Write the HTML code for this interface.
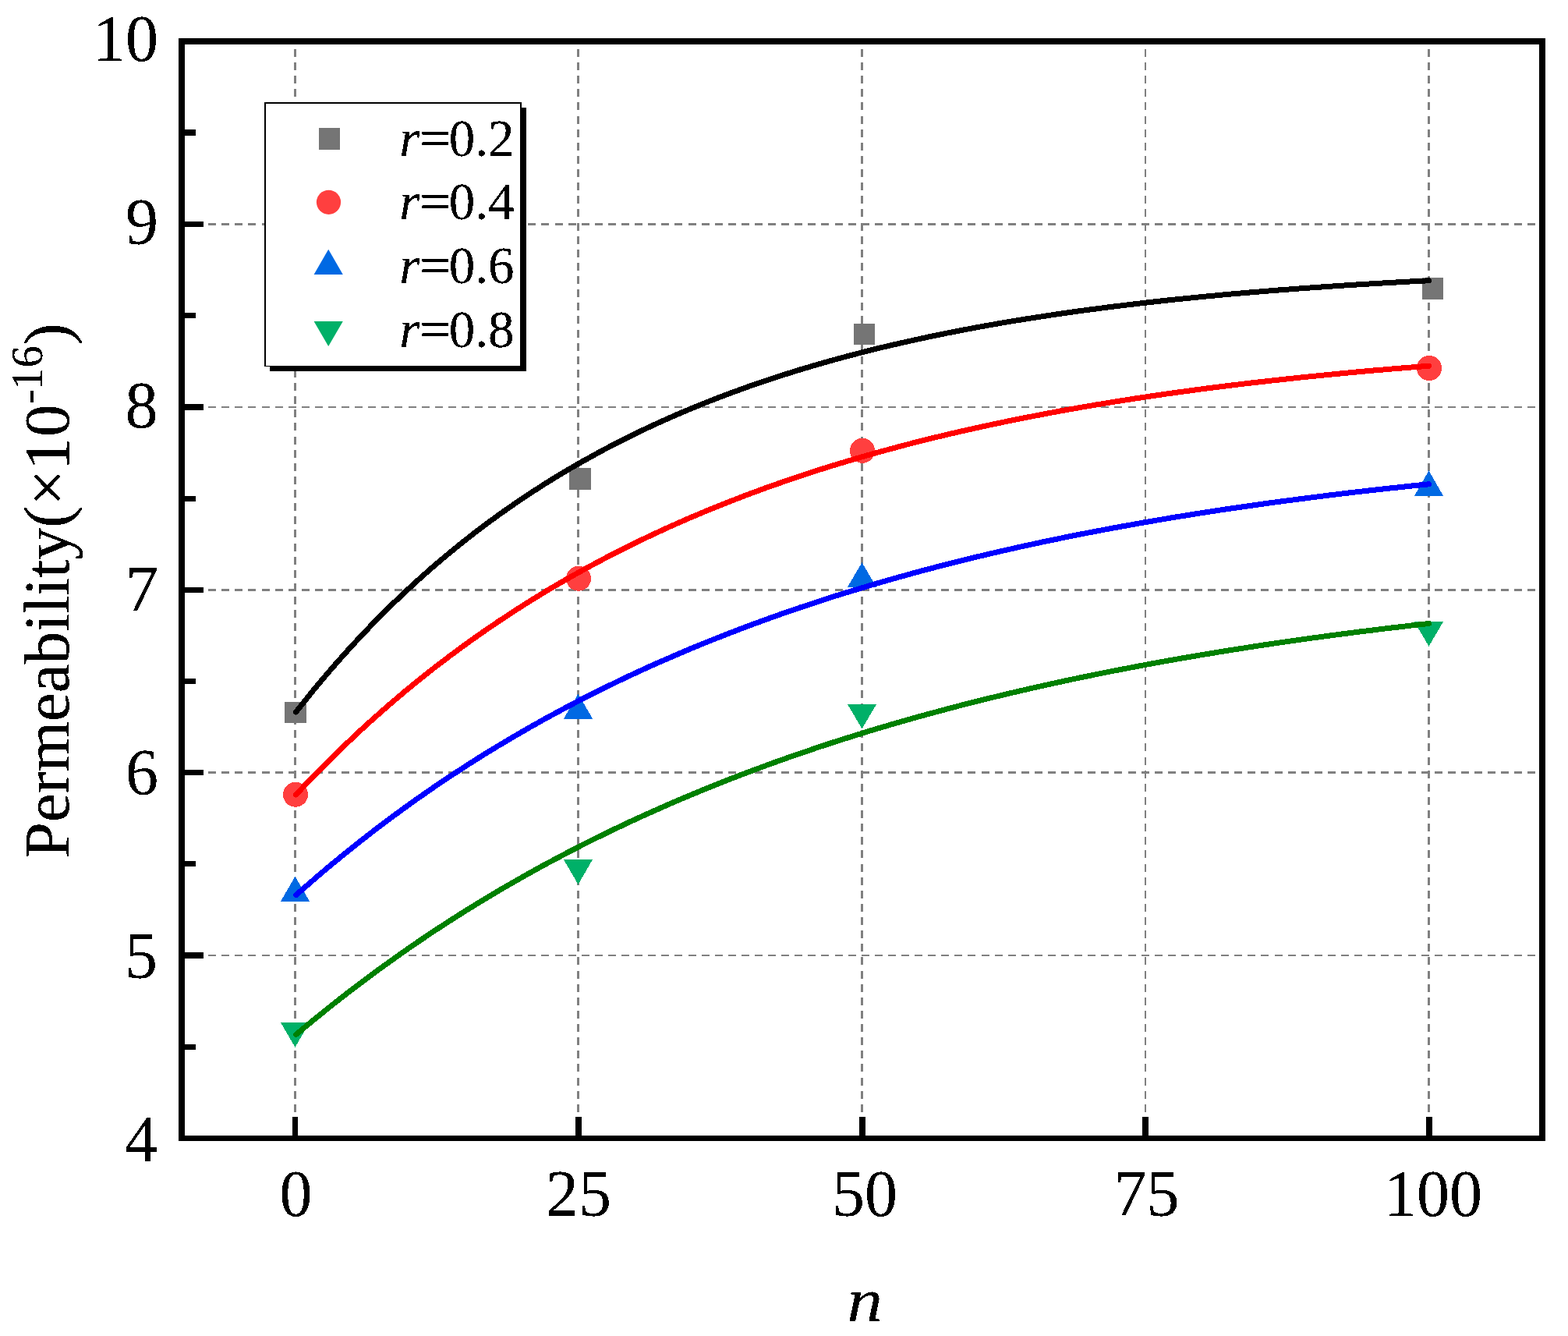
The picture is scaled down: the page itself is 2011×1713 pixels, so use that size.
<!DOCTYPE html>
<html lang="en"><head><meta charset="utf-8"><title>Permeability vs n</title>
<style>html,body{margin:0;padding:0;background:#fff}body{width:2011px;height:1713px;overflow:hidden}svg{display:block}text{font-family:"Liberation Serif","DejaVu Serif",serif;fill:#000}</style>
</head><body>
<svg width="2011" height="1713" viewBox="0 0 2011 1713">
<defs><filter id="crisp" x="-5%" y="-5%" width="110%" height="110%" color-interpolation-filters="sRGB"><feComponentTransfer><feFuncA type="discrete" tableValues="0 0 1 1 1"/></feComponentTransfer></filter></defs>
<rect x="0" y="0" width="2011" height="1713" fill="#ffffff"/>
<g stroke="#808080" fill="none" shape-rendering="crispEdges">
<line x1="233" y1="287.5" x2="1974" y2="287.5" stroke-width="3" stroke-dasharray="10 7.0924"/>
<line x1="233" y1="522.0" x2="1974" y2="522.0" stroke-width="2" stroke-dasharray="10 7.0924"/>
<line x1="233" y1="756.5" x2="1974" y2="756.5" stroke-width="3" stroke-dasharray="10 7.0924"/>
<line x1="233" y1="990.5" x2="1974" y2="990.5" stroke-width="3" stroke-dasharray="10 7.0924"/>
<line x1="233" y1="1225.0" x2="1974" y2="1225.0" stroke-width="2" stroke-dasharray="10 7.0924"/>
<line x1="378.5" y1="1460" x2="378.5" y2="57" stroke-width="3" stroke-dasharray="10 7.125"/>
<line x1="741.5" y1="1460" x2="741.5" y2="57" stroke-width="3" stroke-dasharray="10 7.125"/>
<line x1="1105.5" y1="1460" x2="1105.5" y2="57" stroke-width="3" stroke-dasharray="10 7.125"/>
<line x1="1469.0" y1="1460" x2="1469.0" y2="57" stroke-width="2" stroke-dasharray="10 7.125"/>
<line x1="1832.5" y1="1460" x2="1832.5" y2="57" stroke-width="3" stroke-dasharray="10 7.125"/>
</g>
<g shape-rendering="crispEdges">
<rect x="365" y="900" width="28" height="27" fill="#757575" shape-rendering="crispEdges"/>
<rect x="730" y="600" width="28" height="28" fill="#757575" shape-rendering="crispEdges"/>
<rect x="1095" y="415" width="27" height="27" fill="#757575" shape-rendering="crispEdges"/>
<rect x="1824" y="356" width="27" height="28" fill="#757575" shape-rendering="crispEdges"/>
<circle cx="379.00" cy="1018.70" r="16.00" fill="#ff3f3f"/>
<circle cx="742.00" cy="741.70" r="16.00" fill="#ff3f3f"/>
<circle cx="1106.00" cy="577.80" r="16.00" fill="#ff3f3f"/>
<circle cx="1833.00" cy="472.00" r="16.00" fill="#ff3f3f"/>
<polygon points="378.50,1123.80 397.10,1155.80 359.90,1155.80" fill="#0069e3"/>
<polygon points="741.50,889.80 760.10,921.60 722.90,921.60" fill="#0069e3"/>
<polygon points="1105.50,721.20 1124.10,752.80 1086.90,752.80" fill="#0069e3"/>
<polygon points="1832.50,603.40 1851.10,635.90 1813.90,635.90" fill="#0069e3"/>
<polygon points="359.90,1310.90 397.10,1310.90 378.50,1342.80" fill="#00b068"/>
<polygon points="722.90,1102.00 760.10,1102.00 741.50,1134.00" fill="#00b068"/>
<polygon points="1086.90,902.90 1124.10,902.90 1105.50,934.40" fill="#00b068"/>
<polygon points="1813.90,797.00 1851.10,797.00 1832.50,828.70" fill="#00b068"/>
</g>
<g fill="none" stroke-width="7" stroke-linecap="round" stroke-linejoin="round" shape-rendering="crispEdges">
<path d="M379.6,912.9 L389.6,900.3 L399.5,888.0 L409.5,875.9 L419.4,864.2 L429.4,852.6 L439.3,841.4 L449.3,830.3 L459.2,819.6 L469.2,809.0 L479.1,798.7 L489.1,788.6 L499.0,778.7 L509.0,769.1 L518.9,759.6 L528.9,750.4 L538.8,741.4 L548.8,732.5 L558.7,723.9 L568.7,715.4 L578.6,707.2 L588.6,699.1 L598.5,691.2 L608.5,683.4 L618.4,675.8 L628.4,668.4 L638.3,661.2 L648.3,654.1 L658.2,647.2 L668.2,640.4 L678.1,633.8 L688.1,627.3 L698.0,620.9 L708.0,614.7 L717.9,608.7 L727.9,602.7 L737.8,596.9 L747.8,591.2 L757.8,585.7 L767.7,580.2 L777.7,574.9 L787.6,569.7 L797.6,564.6 L807.5,559.7 L817.5,554.8 L827.4,550.0 L837.4,545.4 L847.3,540.8 L857.3,536.4 L867.2,532.0 L877.2,527.7 L887.1,523.6 L897.1,519.5 L907.0,515.5 L917.0,511.6 L926.9,507.8 L936.9,504.0 L946.8,500.4 L956.8,496.8 L966.7,493.3 L976.7,489.9 L986.6,486.6 L996.6,483.3 L1006.5,480.1 L1016.5,477.0 L1026.4,473.9 L1036.4,470.9 L1046.3,468.0 L1056.3,465.1 L1066.2,462.3 L1076.2,459.6 L1086.1,456.9 L1096.1,454.3 L1106.1,451.7 L1116.0,449.2 L1126.0,446.7 L1135.9,444.3 L1145.9,442.0 L1155.8,439.7 L1165.8,437.5 L1175.7,435.3 L1185.7,433.1 L1195.6,431.0 L1205.6,429.0 L1215.5,426.9 L1225.5,425.0 L1235.4,423.0 L1245.4,421.2 L1255.3,419.3 L1265.3,417.5 L1275.2,415.8 L1285.2,414.0 L1295.1,412.3 L1305.1,410.7 L1315.0,409.1 L1325.0,407.5 L1334.9,406.0 L1344.9,404.5 L1354.8,403.0 L1364.8,401.5 L1374.7,400.1 L1384.7,398.7 L1394.6,397.4 L1404.6,396.1 L1414.5,394.8 L1424.5,393.5 L1434.4,392.3 L1444.4,391.1 L1454.3,389.9 L1464.3,388.7 L1474.3,387.6 L1484.2,386.5 L1494.2,385.4 L1504.1,384.3 L1514.1,383.3 L1524.0,382.3 L1534.0,381.3 L1543.9,380.3 L1553.9,379.4 L1563.8,378.4 L1573.8,377.5 L1583.7,376.6 L1593.7,375.8 L1603.6,374.9 L1613.6,374.1 L1623.5,373.3 L1633.5,372.5 L1643.4,371.7 L1653.4,371.0 L1663.3,370.2 L1673.3,369.5 L1683.2,368.8 L1693.2,368.1 L1703.1,367.4 L1713.1,366.7 L1723.0,366.1 L1733.0,365.4 L1742.9,364.8 L1752.9,364.2 L1762.8,363.6 L1772.8,363.0 L1782.7,362.4 L1792.7,361.9 L1802.6,361.3 L1812.6,360.8 L1822.5,360.3 L1832.5,359.8" stroke="#000000"/>
<path d="M379.6,1018.9 L389.6,1008.3 L399.5,998.0 L409.5,987.8 L419.4,977.7 L429.4,967.9 L439.3,958.3 L449.3,948.8 L459.2,939.4 L469.2,930.3 L479.1,921.3 L489.1,912.5 L499.0,903.8 L509.0,895.3 L518.9,886.9 L528.9,878.7 L538.8,870.6 L548.8,862.7 L558.7,854.9 L568.7,847.3 L578.6,839.8 L588.6,832.4 L598.5,825.2 L608.5,818.1 L618.4,811.1 L628.4,804.2 L638.3,797.5 L648.3,790.9 L658.2,784.4 L668.2,778.0 L678.1,771.7 L688.1,765.5 L698.0,759.5 L708.0,753.5 L717.9,747.7 L727.9,742.0 L737.8,736.4 L747.8,730.8 L757.8,725.4 L767.7,720.1 L777.7,714.8 L787.6,709.7 L797.6,704.6 L807.5,699.7 L817.5,694.8 L827.4,690.0 L837.4,685.3 L847.3,680.7 L857.3,676.1 L867.2,671.7 L877.2,667.3 L887.1,663.0 L897.1,658.8 L907.0,654.6 L917.0,650.6 L926.9,646.6 L936.9,642.7 L946.8,638.8 L956.8,635.0 L966.7,631.3 L976.7,627.6 L986.6,624.0 L996.6,620.5 L1006.5,617.1 L1016.5,613.7 L1026.4,610.3 L1036.4,607.0 L1046.3,603.8 L1056.3,600.6 L1066.2,597.5 L1076.2,594.5 L1086.1,591.5 L1096.1,588.5 L1106.1,585.6 L1116.0,582.8 L1126.0,580.0 L1135.9,577.3 L1145.9,574.6 L1155.8,571.9 L1165.8,569.3 L1175.7,566.8 L1185.7,564.3 L1195.6,561.8 L1205.6,559.4 L1215.5,557.0 L1225.5,554.7 L1235.4,552.4 L1245.4,550.2 L1255.3,548.0 L1265.3,545.8 L1275.2,543.7 L1285.2,541.6 L1295.1,539.5 L1305.1,537.5 L1315.0,535.5 L1325.0,533.6 L1334.9,531.7 L1344.9,529.8 L1354.8,527.9 L1364.8,526.1 L1374.7,524.4 L1384.7,522.6 L1394.6,520.9 L1404.6,519.2 L1414.5,517.6 L1424.5,515.9 L1434.4,514.3 L1444.4,512.8 L1454.3,511.2 L1464.3,509.7 L1474.3,508.2 L1484.2,506.8 L1494.2,505.3 L1504.1,503.9 L1514.1,502.5 L1524.0,501.2 L1534.0,499.8 L1543.9,498.5 L1553.9,497.2 L1563.8,496.0 L1573.8,494.7 L1583.7,493.5 L1593.7,492.3 L1603.6,491.1 L1613.6,490.0 L1623.5,488.9 L1633.5,487.7 L1643.4,486.7 L1653.4,485.6 L1663.3,484.5 L1673.3,483.5 L1683.2,482.5 L1693.2,481.5 L1703.1,480.5 L1713.1,479.5 L1723.0,478.6 L1733.0,477.6 L1742.9,476.7 L1752.9,475.8 L1762.8,474.9 L1772.8,474.1 L1782.7,473.2 L1792.7,472.4 L1802.6,471.6 L1812.6,470.8 L1822.5,470.0 L1832.5,469.2" stroke="#ff0000"/>
<path d="M379.6,1147.7 L389.6,1138.9 L399.5,1130.3 L409.5,1121.7 L419.4,1113.3 L429.4,1105.0 L439.3,1096.9 L449.3,1088.8 L459.2,1080.9 L469.2,1073.1 L479.1,1065.4 L489.1,1057.8 L499.0,1050.4 L509.0,1043.0 L518.9,1035.8 L528.9,1028.6 L538.8,1021.6 L548.8,1014.7 L558.7,1007.8 L568.7,1001.1 L578.6,994.5 L588.6,988.0 L598.5,981.5 L608.5,975.2 L618.4,968.9 L628.4,962.8 L638.3,956.7 L648.3,950.8 L658.2,944.9 L668.2,939.1 L678.1,933.4 L688.1,927.8 L698.0,922.2 L708.0,916.8 L717.9,911.4 L727.9,906.1 L737.8,900.9 L747.8,895.7 L757.8,890.7 L767.7,885.7 L777.7,880.8 L787.6,875.9 L797.6,871.1 L807.5,866.4 L817.5,861.8 L827.4,857.2 L837.4,852.7 L847.3,848.3 L857.3,844.0 L867.2,839.7 L877.2,835.4 L887.1,831.2 L897.1,827.1 L907.0,823.1 L917.0,819.1 L926.9,815.2 L936.9,811.3 L946.8,807.5 L956.8,803.7 L966.7,800.0 L976.7,796.4 L986.6,792.8 L996.6,789.2 L1006.5,785.7 L1016.5,782.3 L1026.4,778.9 L1036.4,775.6 L1046.3,772.3 L1056.3,769.0 L1066.2,765.8 L1076.2,762.7 L1086.1,759.6 L1096.1,756.6 L1106.1,753.6 L1116.0,750.6 L1126.0,747.7 L1135.9,744.8 L1145.9,742.0 L1155.8,739.2 L1165.8,736.4 L1175.7,733.7 L1185.7,731.0 L1195.6,728.4 L1205.6,725.8 L1215.5,723.3 L1225.5,720.8 L1235.4,718.3 L1245.4,715.8 L1255.3,713.4 L1265.3,711.1 L1275.2,708.7 L1285.2,706.4 L1295.1,704.2 L1305.1,701.9 L1315.0,699.7 L1325.0,697.6 L1334.9,695.4 L1344.9,693.3 L1354.8,691.3 L1364.8,689.2 L1374.7,687.2 L1384.7,685.2 L1394.6,683.3 L1404.6,681.4 L1414.5,679.5 L1424.5,677.6 L1434.4,675.8 L1444.4,674.0 L1454.3,672.2 L1464.3,670.4 L1474.3,668.7 L1484.2,667.0 L1494.2,665.3 L1504.1,663.6 L1514.1,662.0 L1524.0,660.4 L1534.0,658.8 L1543.9,657.3 L1553.9,655.7 L1563.8,654.2 L1573.8,652.7 L1583.7,651.3 L1593.7,649.8 L1603.6,648.4 L1613.6,647.0 L1623.5,645.6 L1633.5,644.2 L1643.4,642.9 L1653.4,641.6 L1663.3,640.3 L1673.3,639.0 L1683.2,637.7 L1693.2,636.5 L1703.1,635.2 L1713.1,634.0 L1723.0,632.8 L1733.0,631.6 L1742.9,630.5 L1752.9,629.3 L1762.8,628.2 L1772.8,627.1 L1782.7,626.0 L1792.7,625.0 L1802.6,623.9 L1812.6,622.8 L1822.5,621.8 L1832.5,620.8" stroke="#0000ff"/>
<path d="M379.6,1326.6 L389.6,1318.2 L399.5,1310.0 L409.5,1301.9 L419.4,1293.9 L429.4,1285.9 L439.3,1278.1 L449.3,1270.5 L459.2,1262.9 L469.2,1255.4 L479.1,1248.0 L489.1,1240.7 L499.0,1233.6 L509.0,1226.5 L518.9,1219.5 L528.9,1212.6 L538.8,1205.8 L548.8,1199.1 L558.7,1192.5 L568.7,1186.0 L578.6,1179.6 L588.6,1173.2 L598.5,1167.0 L608.5,1160.8 L618.4,1154.8 L628.4,1148.8 L638.3,1142.8 L648.3,1137.0 L658.2,1131.3 L668.2,1125.6 L678.1,1120.0 L688.1,1114.5 L698.0,1109.0 L708.0,1103.7 L717.9,1098.4 L727.9,1093.2 L737.8,1088.0 L747.8,1082.9 L757.8,1077.9 L767.7,1073.0 L777.7,1068.1 L787.6,1063.3 L797.6,1058.6 L807.5,1053.9 L817.5,1049.3 L827.4,1044.8 L837.4,1040.3 L847.3,1035.9 L857.3,1031.5 L867.2,1027.2 L877.2,1023.0 L887.1,1018.8 L897.1,1014.7 L907.0,1010.6 L917.0,1006.6 L926.9,1002.6 L936.9,998.7 L946.8,994.9 L956.8,991.1 L966.7,987.4 L976.7,983.7 L986.6,980.0 L996.6,976.4 L1006.5,972.9 L1016.5,969.4 L1026.4,966.0 L1036.4,962.6 L1046.3,959.2 L1056.3,955.9 L1066.2,952.6 L1076.2,949.4 L1086.1,946.3 L1096.1,943.1 L1106.1,940.1 L1116.0,937.0 L1126.0,934.0 L1135.9,931.1 L1145.9,928.1 L1155.8,925.3 L1165.8,922.4 L1175.7,919.6 L1185.7,916.9 L1195.6,914.2 L1205.6,911.5 L1215.5,908.8 L1225.5,906.2 L1235.4,903.6 L1245.4,901.1 L1255.3,898.6 L1265.3,896.1 L1275.2,893.7 L1285.2,891.3 L1295.1,888.9 L1305.1,886.6 L1315.0,884.3 L1325.0,882.0 L1334.9,879.8 L1344.9,877.6 L1354.8,875.4 L1364.8,873.2 L1374.7,871.1 L1384.7,869.0 L1394.6,867.0 L1404.6,864.9 L1414.5,862.9 L1424.5,860.9 L1434.4,859.0 L1444.4,857.1 L1454.3,855.2 L1464.3,853.3 L1474.3,851.4 L1484.2,849.6 L1494.2,847.8 L1504.1,846.1 L1514.1,844.3 L1524.0,842.6 L1534.0,840.9 L1543.9,839.2 L1553.9,837.6 L1563.8,835.9 L1573.8,834.3 L1583.7,832.7 L1593.7,831.2 L1603.6,829.6 L1613.6,828.1 L1623.5,826.6 L1633.5,825.1 L1643.4,823.7 L1653.4,822.2 L1663.3,820.8 L1673.3,819.4 L1683.2,818.0 L1693.2,816.7 L1703.1,815.3 L1713.1,814.0 L1723.0,812.7 L1733.0,811.4 L1742.9,810.1 L1752.9,808.9 L1762.8,807.7 L1772.8,806.4 L1782.7,805.2 L1792.7,804.1 L1802.6,802.9 L1812.6,801.7 L1822.5,800.6 L1832.5,799.5" stroke="#008000"/>
</g>
<g fill="#000" shape-rendering="crispEdges">
<rect x="229" y="49" width="8" height="1414"/>
<rect x="1974" y="49" width="8" height="1414"/>
<rect x="229" y="49" width="1753" height="8"/>
<rect x="229" y="1456" width="1753" height="7"/>
<rect x="237" y="284" width="24" height="7"/>
<rect x="237" y="518" width="24" height="8"/>
<rect x="237" y="753" width="24" height="7"/>
<rect x="237" y="987" width="24" height="7"/>
<rect x="237" y="1221" width="24" height="8"/>
<rect x="237" y="166" width="14" height="8"/>
<rect x="237" y="401" width="14" height="7"/>
<rect x="237" y="636" width="14" height="7"/>
<rect x="237" y="870" width="14" height="7"/>
<rect x="237" y="1104" width="14" height="7"/>
<rect x="237" y="1339" width="14" height="7"/>
<rect x="375" y="1432" width="7" height="24"/>
<rect x="738" y="1432" width="8" height="24"/>
<rect x="1102" y="1432" width="8" height="24"/>
<rect x="1465" y="1432" width="8" height="24"/>
<rect x="1829" y="1432" width="8" height="24"/>
</g>
<g shape-rendering="crispEdges">
<rect x="346" y="138" width="329" height="338" fill="#000"/>
<rect x="339" y="131" width="330" height="339" fill="#000"/>
<rect x="341" y="133" width="326" height="336" fill="#fff"/>
</g>
<rect x="409" y="164" width="27" height="28" fill="#757575" shape-rendering="crispEdges"/>
<circle cx="421.50" cy="259.30" r="15.60" fill="#ff3f3f"/>
<polygon points="421.20,319.70 439.80,352.00 402.60,352.00" fill="#0069e3"/>
<polygon points="402.60,411.90 439.80,411.90 421.20,444.10" fill="#00b068"/>
<g filter="url(#crisp)">
<text x="512.2" y="199.6" font-size="67"><tspan font-style="italic">r</tspan><tspan x="538.1" textLength="40.5" lengthAdjust="spacingAndGlyphs">=</tspan><tspan x="575.8">0.2</tspan></text>
<text x="512.2" y="281.4" font-size="67"><tspan font-style="italic">r</tspan><tspan x="538.1" textLength="40.5" lengthAdjust="spacingAndGlyphs">=</tspan><tspan x="575.8">0.4</tspan></text>
<text x="512.2" y="363.2" font-size="67"><tspan font-style="italic">r</tspan><tspan x="538.1" textLength="40.5" lengthAdjust="spacingAndGlyphs">=</tspan><tspan x="575.8">0.6</tspan></text>
<text x="512.2" y="445.0" font-size="67"><tspan font-style="italic">r</tspan><tspan x="538.1" textLength="40.5" lengthAdjust="spacingAndGlyphs">=</tspan><tspan x="575.8">0.8</tspan></text>
<text x="203.0" y="77.9" font-size="84" text-anchor="end">10</text>
<text x="203.0" y="313.3" font-size="84" text-anchor="end">9</text>
<text x="202.6" y="548.0" font-size="84" text-anchor="end">8</text>
<text x="203.0" y="783.6" font-size="84" text-anchor="end">7</text>
<text x="203.0" y="1019.0" font-size="84" text-anchor="end">6</text>
<text x="202.0" y="1254.4" font-size="84" text-anchor="end">5</text>
<text x="202.0" y="1488.8" font-size="84" text-anchor="end">4</text>
<text x="379.4" y="1559" font-size="84" text-anchor="middle">0</text>
<text x="742.0" y="1559" font-size="84" text-anchor="middle">25</text>
<text x="1108.9" y="1559" font-size="84" text-anchor="middle">50</text>
<text x="1470.5" y="1559" font-size="84" text-anchor="middle">75</text>
<text x="1838.0" y="1559" font-size="84" text-anchor="middle">100</text>
<text transform="translate(1109.2,1694.3) scale(1.085,0.935)" x="0" y="0" font-size="84" font-style="italic" text-anchor="middle">n</text>
<text transform="translate(88,1100.4) rotate(-90)" font-size="83">Permeability<tspan x="423.75">(</tspan><tspan x="451.45">×</tspan><tspan x="497.6">1</tspan><tspan x="540.2">0</tspan><tspan font-size="56" dy="-34" x="582.2 600.4 629">-16</tspan><tspan dy="34" x="658.2">)</tspan></text>
</g>
</svg>
</body></html>
